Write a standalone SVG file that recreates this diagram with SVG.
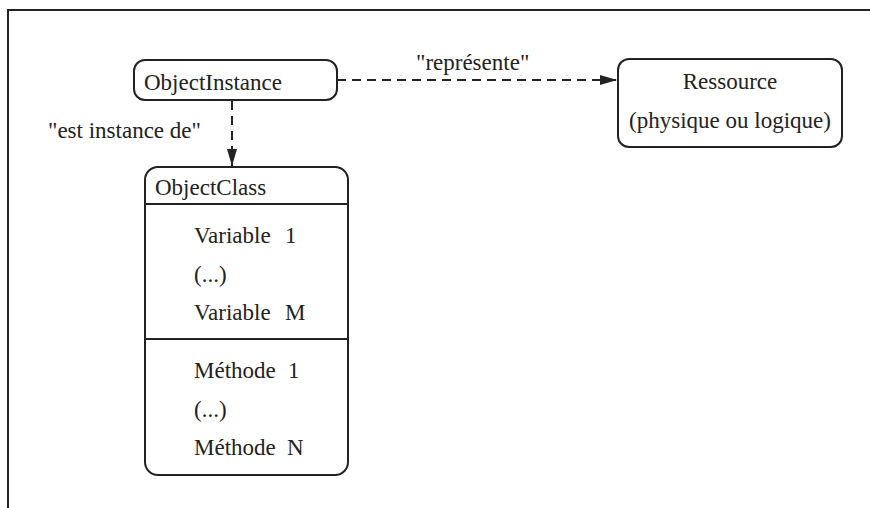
<svg xmlns="http://www.w3.org/2000/svg" width="870" height="508" viewBox="0 0 870 508">
<style>
text{font-family:'Liberation Serif','Times New Roman','DejaVu Serif',serif;font-size:23px;fill:#222}
.box{fill:#fff;stroke:#222;stroke-width:2}
.line{stroke:#222;stroke-width:2;fill:none}
.dash{stroke:#222;stroke-width:2;fill:none;stroke-dasharray:9 6}
</style>
<defs>
<marker id="arr" markerUnits="userSpaceOnUse" markerWidth="18" markerHeight="12" refX="17" refY="5" orient="auto">
<path d="M0,0 L17,5 L0,10 Z" fill="#222"/>
</marker>
</defs>
<rect width="870" height="508" fill="#fff"/>
<path class="line" d="M8,508 L8,10 L870,10"/>
<g id="connectors" font-family="Liberation Serif, serif">
<path class="dash" d="M337,80 L617,80" marker-end="url(#arr)"/>
<path class="dash" d="M232,101 L232,166" marker-end="url(#arr)"/>
<text x="416" y="70">"représente"</text>
<text x="48" y="138">"est instance de"</text>
</g>
<g id="objectinstance" font-family="Liberation Serif, serif">
<rect class="box" x="134" y="60" width="203" height="40" rx="11"/>
<text x="144" y="90">ObjectInstance</text>
</g>
<g id="ressource" font-family="Liberation Serif, serif">
<rect class="box" x="618" y="59" width="224" height="88" rx="11"/>
<text x="730" y="89" text-anchor="middle">Ressource</text>
<text x="730" y="128" text-anchor="middle">(physique ou logique)</text>
</g>
<g id="objectclass" font-family="Liberation Serif, serif">
<rect class="box" x="145" y="167" width="203" height="308" rx="13"/>
<path class="line" d="M145,204 L348,204 M145,339 L348,339"/>
<text x="155" y="195">ObjectClass</text>
<text x="194" y="243">Variable<tspan x="285">1</tspan></text>
<text x="194" y="282">(...)</text>
<text x="194" y="320">Variable<tspan x="285">M</tspan></text>
<text x="194" y="378">Méthode<tspan x="288">1</tspan></text>
<text x="194" y="417">(...)</text>
<text x="194" y="455">Méthode<tspan x="287">N</tspan></text>
</g>
</svg>
